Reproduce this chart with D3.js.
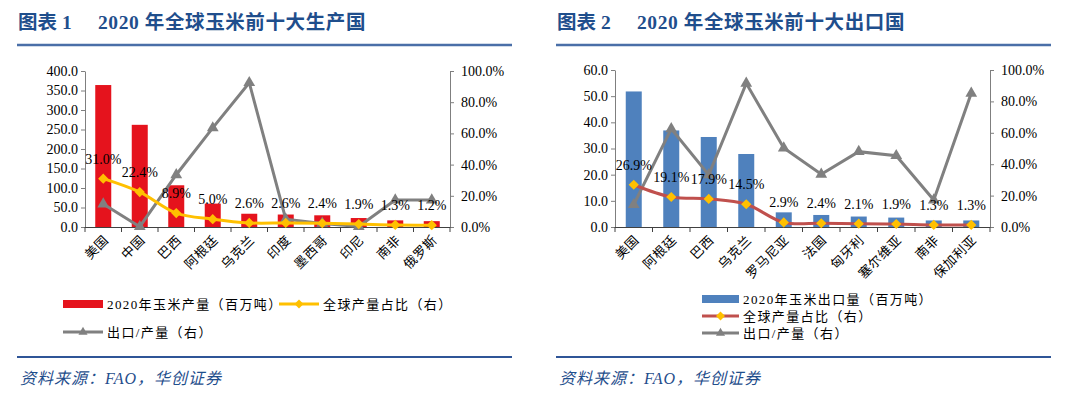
<!DOCTYPE html>
<html>
<head>
<meta charset="utf-8">
<script src="https://cdn.jsdelivr.net/npm/d3@7"></script>
<style>
  body { margin: 0; background: #fff; }
  svg { display: block; }
  text { font-family: "Liberation Serif", "Noto Sans CJK SC", serif; }
</style>
</head>
<body>
<svg id="chart" width="1080" height="395"></svg>
<script>
// 图表1：2020年全球玉米前十大生产国
const prodCountries = ["美国", "中国", "巴西", "阿根廷", "乌克兰", "印度", "墨西哥", "印尼", "南非", "俄罗斯"];
const prodVolume = [364, 262, 107, 60, 34, 32, 30, 23, 17, 15];          // 百万吨
const prodShare = [31.0, 22.4, 8.9, 5.0, 2.6, 2.6, 2.4, 1.9, 1.3, 1.2];   // %
const prodExportRatio = [14.7, 0.2, 33.5, 63.5, 92.5, 5.0, 2.3, 0.3, 17.3, 17.3]; // %

// 图表2：2020年全球玉米前十大出口国
const expCountries = ["美国", "阿根廷", "巴西", "乌克兰", "罗马尼亚", "法国", "匈牙利", "塞尔维亚", "南非", "保加利亚"];
const expVolume = [51.8, 36.9, 34.4, 27.9, 5.6, 4.6, 4.0, 3.6, 2.5, 2.5];
const expShare = [26.9, 19.1, 17.9, 14.5, 2.9, 2.4, 2.1, 1.9, 1.3, 1.3];
const expRatio = [14.2, 62.5, 33.2, 91.5, 50.3, 33.6, 48.0, 45.4, 17.2, 85.2];

const prodTicks = d3.range(0, 401, 50);
const expTicks = d3.range(0, 61, 10);
const pctTicks = d3.range(0, 101, 20);

const svg = d3.select("#chart");
const navy = "#1f4e8c";

function drawChart(o) {
  const g = svg.append("g");

  // 标题
  const title = g.append("text")
    .attr("y", 29)
    .attr("fill", navy)
    .attr("font-size", 19.5)
    .attr("font-weight", "bold");
  title.append("tspan").attr("x", o.x0 + 1).text(o.titleNo);
  title.append("tspan").attr("x", o.x0 + 81).attr("letter-spacing", 0.6).text(o.title);

  g.append("line")
    .attr("x1", o.x0).attr("x2", o.x0 + 495)
    .attr("y1", 45).attr("y2", 45)
    .attr("stroke", "#4a6fa8").attr("stroke-width", 2.5);

  g.append("line")
    .attr("x1", o.x0).attr("x2", o.x0 + 495)
    .attr("y1", 357).attr("y2", 357)
    .attr("stroke", "#2f5597").attr("stroke-width", 2);

  g.append("text")
    .attr("x", o.x0 + 3).attr("y", 384)
    .attr("fill", navy)
    .attr("font-size", 16)
    .attr("letter-spacing", 1)
    .attr("font-style", "italic")
    .text("资料来源：FAO，华创证券");

  const x = d3.scaleBand().domain(o.cats).range([o.left, o.right]);
  const y = d3.scaleLinear().domain([o.ticks[0], o.ticks[o.ticks.length - 1]]).range([o.bottom, o.top]);
  const y2 = d3.scaleLinear().domain([0, 100]).range([o.bottom, o.top]);

  // 柱子
  g.selectAll(".bar")
    .data(o.bars)
    .enter()
    .append("rect")
    .attr("x", (d, i) => x(o.cats[i]) + x.bandwidth() / 2 - 8)
    .attr("width", 16)
    .attr("y", d => y(d))
    .attr("height", d => o.bottom - y(d))
    .attr("fill", o.barColor);

  // 坐标轴
  const yAxis = g.append("g")
    .attr("transform", `translate(${o.left},0)`)
    .call(d3.axisLeft(y).tickValues(o.ticks).tickFormat(d3.format(".1f")).tickSize(4).tickSizeOuter(0).tickPadding(3));
  const yAxis2 = g.append("g")
    .attr("transform", `translate(${o.right},0)`)
    .call(d3.axisRight(y2).tickValues(pctTicks).tickFormat(d => d.toFixed(1) + "%").tickSize(4).tickSizeOuter(0).tickPadding(7));
  [yAxis, yAxis2].forEach(a => {
    a.selectAll("path, line").attr("stroke", "#7f7f7f");
    a.selectAll("text").attr("font-size", 14).attr("fill", "#000")
      .style("font-family", "'Liberation Serif', serif");
  });

  g.append("line")
    .attr("x1", o.left).attr("x2", o.right)
    .attr("y1", o.bottom + 0.5).attr("y2", o.bottom + 0.5)
    .attr("stroke", "#404040");
  g.selectAll(".xtick")
    .data(o.cats.concat([null]))
    .enter()
    .append("line")
    .attr("x1", d => d === null ? o.right : x(d))
    .attr("x2", d => d === null ? o.right : x(d))
    .attr("y1", o.bottom).attr("y2", o.bottom + 5)
    .attr("stroke", "#404040");

  g.selectAll(".xlab")
    .data(o.cats)
    .enter()
    .append("text")
    .attr("text-anchor", "end")
    .attr("font-size", 13)
    .attr("letter-spacing", 0.5)
    .attr("transform", d => `translate(${x(d) + x.bandwidth() / 2 + 6},${o.bottom + 14}) rotate(-45)`)
    .text(d => d);

  const cx = (d, i) => x(o.cats[i]) + x.bandwidth() / 2;

  // 出口/产量 折线
  g.append("path")
    .datum(o.ratio)
    .attr("fill", "none")
    .attr("stroke", "#808080")
    .attr("stroke-width", 3)
    .attr("d", d3.line().x(cx).y(d => y2(d)));
  g.selectAll(".tri")
    .data(o.ratio)
    .enter()
    .append("path")
    .attr("d", d3.symbol(d3.symbolTriangle, 60))
    .attr("transform", (d, i) => `translate(${cx(d, i)},${y2(d)})`)
    .attr("fill", "#808080");

  // 全球占比 折线
  g.append("path")
    .datum(o.share)
    .attr("fill", "none")
    .attr("stroke", o.shareLine)
    .attr("stroke-width", 3)
    .attr("d", d3.line().x(cx).y(d => y2(d)).curve(d3.curveCatmullRom));
  g.selectAll(".dia")
    .data(o.share)
    .enter()
    .append("path")
    .attr("d", d3.symbol(d3.symbolSquare, 52))
    .attr("transform", (d, i) => `translate(${cx(d, i)},${y2(d)}) rotate(45)`)
    .attr("fill", "#ffc000");
  g.selectAll(".lab")
    .data(o.share)
    .enter()
    .append("text")
    .attr("x", cx)
    .attr("y", d => y2(d) - 15)
    .attr("text-anchor", "middle")
    .attr("font-size", 14)
    .text(d => d.toFixed(1) + "%");

  // 图例
  o.legend.forEach(l => {
    const lg = g.append("g").attr("transform", `translate(${l.x},${l.y})`);
    if (l.type === "bar") {
      lg.append("rect").attr("x", 0).attr("y", -4).attr("width", l.w).attr("height", 8).attr("fill", o.barColor);
    } else {
      lg.append("line").attr("x1", 0).attr("x2", l.w).attr("stroke", l.color).attr("stroke-width", 3);
      const sym = l.type === "dia" ? d3.symbol(d3.symbolSquare, 40) : d3.symbol(d3.symbolTriangle, 36);
      lg.append("path").attr("d", sym)
        .attr("transform", `translate(${l.w / 2},0)` + (l.type === "dia" ? " rotate(45)" : ""))
        .attr("fill", l.type === "dia" ? "#ffc000" : "#808080");
    }
    lg.append("text").attr("x", l.w + 4).attr("y", 5).attr("font-size", 13)
      .attr("letter-spacing", 1.4).text(l.text);
  });
}

drawChart({
  x0: 17, titleNo: "图表 1", title: "2020 年全球玉米前十大生产国",
  left: 85, right: 450, top: 71, bottom: 227,
  cats: prodCountries, bars: prodVolume, share: prodShare, ratio: prodExportRatio,
  ticks: prodTicks, barColor: "#e5131d", shareLine: "#ffc000",
  legend: [
    { type: "bar", x: 63, y: 304, w: 40, text: "2020年玉米产量（百万吨）" },
    { type: "dia", x: 279, y: 304, w: 40, color: "#ffc000", text: "全球产量占比（右）" },
    { type: "tri", x: 63, y: 332, w: 40, color: "#808080", text: "出口/产量（右）" }
  ]
});

drawChart({
  x0: 556, titleNo: "图表 2", title: "2020 年全球玉米前十大出口国",
  left: 615, right: 990, top: 70, bottom: 227,
  cats: expCountries, bars: expVolume, share: expShare, ratio: expRatio,
  ticks: expTicks, barColor: "#4f81bd", shareLine: "#c0504d",
  legend: [
    { type: "bar", x: 702, y: 299, w: 37, text: "2020年玉米出口量（百万吨）" },
    { type: "dia", x: 702, y: 316, w: 37, color: "#c0504d", text: "全球产量占比（右）" },
    { type: "tri", x: 702, y: 333, w: 37, color: "#808080", text: "出口/产量（右）" }
  ]
});
</script>
</body>
</html>
